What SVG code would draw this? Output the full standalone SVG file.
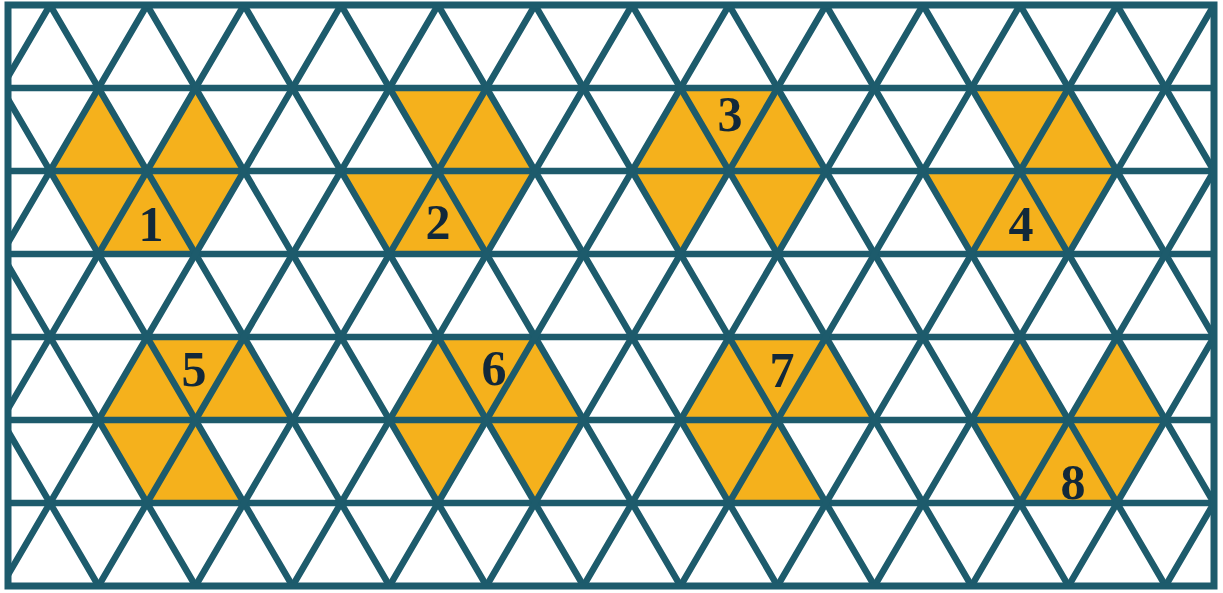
<svg xmlns="http://www.w3.org/2000/svg" width="1223" height="593" viewBox="0 0 1223 593">
<style>
.fill{fill:#f5b11c;stroke:none}
.grid{fill:none;stroke:#1d5b6c;stroke-width:6.5}
.frame{fill:none;stroke:#1d5b6c;stroke-width:7}
.lbl{font-family:"Liberation Serif","Times New Roman",serif;font-weight:bold;font-size:50px;fill:#12283a;text-anchor:middle}
</style>
<defs>
<clipPath id="clip"><rect x="8" y="5" width="1206" height="581"/></clipPath>
</defs>
<rect x="0" y="0" width="1223" height="593" fill="#ffffff"/>
<g id="shape1">
<polygon class="fill" points="98.5,88 50,171 147,171"/>
<polygon class="fill" points="195.5,88 147,171 244,171"/>
<polygon class="fill" points="50,171 244,171 195.5,254 98.5,254"/>
</g>
<g id="shape2">
<polygon class="fill" points="389.5,88 486.5,88 535,171 438,171"/>
<polygon class="fill" points="341,171 535,171 486.5,254 389.5,254"/>
</g>
<g id="shape3">
<polygon class="fill" points="680.5,88 777.5,88 826,171 632,171"/>
<polygon class="fill" points="632,171 729,171 680.5,254"/>
<polygon class="fill" points="729,171 826,171 777.5,254"/>
</g>
<g id="shape4">
<polygon class="fill" points="971.5,88 1068.5,88 1117,171 1020,171"/>
<polygon class="fill" points="923,171 1117,171 1068.5,254 971.5,254"/>
</g>
<g id="shape5">
<polygon class="fill" points="147,337 244,337 292.5,420 98.5,420"/>
<polygon class="fill" points="98.5,420 195.5,420 244,503 147,503"/>
</g>
<g id="shape6">
<polygon class="fill" points="438,337 535,337 583.5,420 389.5,420"/>
<polygon class="fill" points="389.5,420 486.5,420 438,503"/>
<polygon class="fill" points="486.5,420 583.5,420 535,503"/>
</g>
<g id="shape7">
<polygon class="fill" points="729,337 826,337 874.5,420 680.5,420"/>
<polygon class="fill" points="680.5,420 777.5,420 826,503 729,503"/>
</g>
<g id="shape8">
<polygon class="fill" points="1020,337 971.5,420 1068.5,420"/>
<polygon class="fill" points="1117,337 1068.5,420 1165.5,420"/>
<polygon class="fill" points="971.5,420 1165.5,420 1117,503 1020,503"/>
</g>
<g id="connectors" clip-path="url(#clip)">
<path class="grid" d="M8,88H1214M8,171H1214M8,254H1214M8,337H1214M8,420H1214M8,503H1214"/>
<path class="grid" d="M-241,5L98.5,586M-144,5L195.5,586M-47,5L292.5,586M50,5L389.5,586M147,5L486.5,586M244,5L583.5,586M341,5L680.5,586M438,5L777.5,586M535,5L874.5,586M632,5L971.5,586M729,5L1068.5,586M826,5L1165.5,586M923,5L1262.5,586M1020,5L1359.5,586M1117,5L1456.5,586"/>
<path class="grid" d="M50,5L-289.5,586M147,5L-192.5,586M244,5L-95.5,586M341,5L1.5,586M438,5L98.5,586M535,5L195.5,586M632,5L292.5,586M729,5L389.5,586M826,5L486.5,586M923,5L583.5,586M1020,5L680.5,586M1117,5L777.5,586M1214,5L874.5,586M1311,5L971.5,586M1408,5L1068.5,586M1505,5L1165.5,586"/>
</g>
<rect id="frame" class="frame" x="8" y="5" width="1206" height="581"/>
<g id="labels">
<text class="lbl" x="151" y="241">1</text>
<text class="lbl" x="438" y="239">2</text>
<text class="lbl" x="730" y="131">3</text>
<text class="lbl" x="1021" y="241">4</text>
<text class="lbl" x="194" y="386">5</text>
<text class="lbl" x="494" y="385">6</text>
<text class="lbl" x="782" y="387">7</text>
<text class="lbl" x="1073" y="499">8</text>
</g>
</svg>
